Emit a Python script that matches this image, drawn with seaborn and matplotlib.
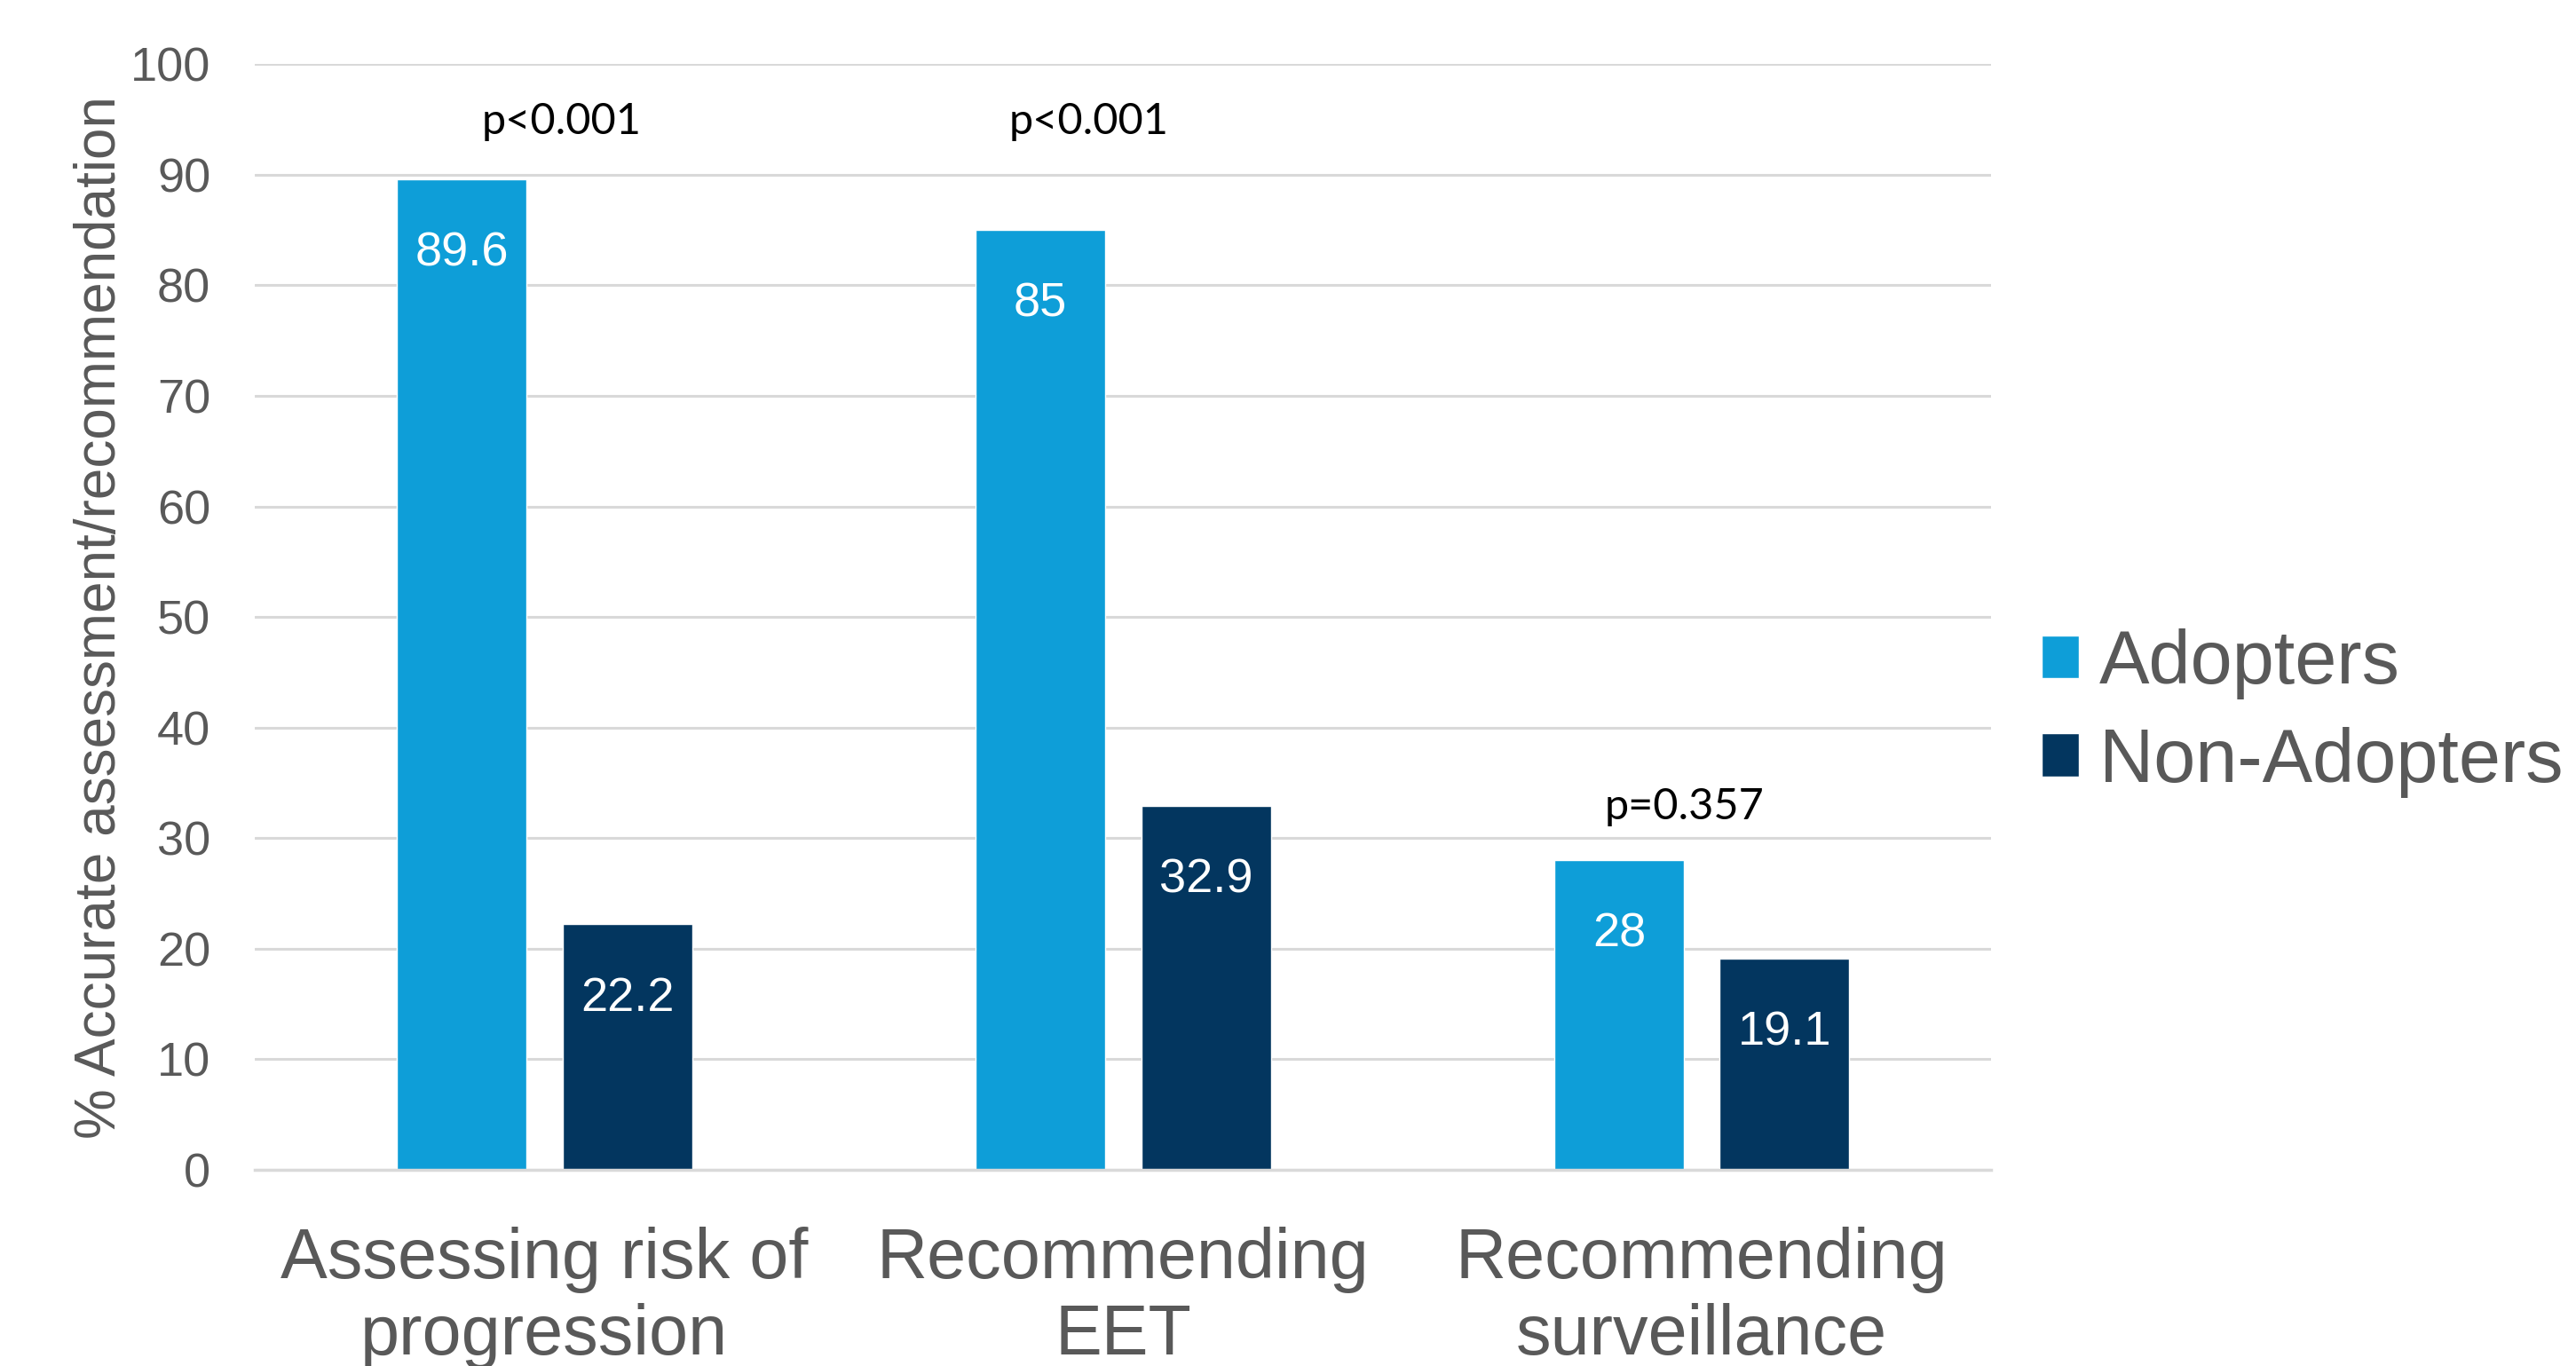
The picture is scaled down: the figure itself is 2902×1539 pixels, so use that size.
import matplotlib
matplotlib.use("Agg")
import matplotlib.pyplot as plt
import seaborn as sns
import pandas as pd

categories = ["Assessing risk of\nprogression", "Recommending\nEET", "Recommending\nsurveillance"]
groups = ["Adopters", "Non-Adopters"]
adopters = [89.6, 85, 28]
non_adopters = [22.2, 32.9, 19.1]
p_labels = ["p<0.001", "p<0.001", "p=0.357"]
p_pos = [(0.03, 94.8), (0.94, 94.8), (1.97, 32.8)]
y_ticks = [0, 10, 20, 30, 40, 50, 60, 70, 80, 90, 100]
y_label = "% Accurate assessment/recommendation"
colors = ["#0E9ED8", "#03365F"]

df = pd.DataFrame({
    "category": categories * 2,
    "group": [groups[0]] * 3 + [groups[1]] * 3,
    "value": adopters + non_adopters,
})

sns.set_theme(style="white")
plt.rcParams["font.family"] = ["Liberation Sans", "DejaVu Sans"]

fig = plt.figure(figsize=(29.02, 15.39), dpi=100)
ax = fig.add_axes([0.099, 0.1436, 0.674, 0.8094])

sns.barplot(data=df, x="category", y="value", hue="group", hue_order=groups,
            order=categories, palette=colors, width=0.572, gap=0.217,
            saturation=1, ax=ax, legend=True)

for cont in ax.containers:
    ax.bar_label(cont, fmt="%g", label_type="edge", padding=-78,
                 color="white", fontsize=39)

for txt, (px, py) in zip(p_labels, p_pos):
    ax.text(px, py, txt, ha="center", va="center", fontsize=35,
            color="black", family=["Lato", "DejaVu Sans"])

ax.set_xlim(-0.5, 2.5)
ax.set_ylim(0, 100)
ax.set_yticks(y_ticks)
ax.yaxis.grid(True, color="#D9D9D9", linewidth=2.2)
ax.set_axisbelow(True)
for s in ["top", "right", "left"]:
    ax.spines[s].set_visible(False)
ax.spines["bottom"].set_color("#D9D9D9")
ax.spines["bottom"].set_linewidth(2.5)
ax.tick_params(axis="y", length=0, pad=36, labelsize=39, labelcolor="#595959")
ax.tick_params(axis="x", length=0, pad=46, labelsize=57, labelcolor="#595959")
for lab in ax.get_xticklabels():
    lab.set_linespacing(1.2)
ax.set_xlabel("")
ax.set_ylabel(y_label, fontsize=46, color="#595959", labelpad=3)

handles, labels = ax.get_legend_handles_labels()
ax.legend_.remove()
fig.legend(handles, labels, loc="center left", bbox_to_anchor=(0.7925, 0.478),
           bbox_transform=fig.transFigure, frameon=False, fontsize=61,
           labelcolor="#595959", handlelength=0.5, handleheight=0.5,
           handletextpad=0.27, labelspacing=0.36, borderpad=0, borderaxespad=0)

fig.savefig("out.png", dpi=100)
